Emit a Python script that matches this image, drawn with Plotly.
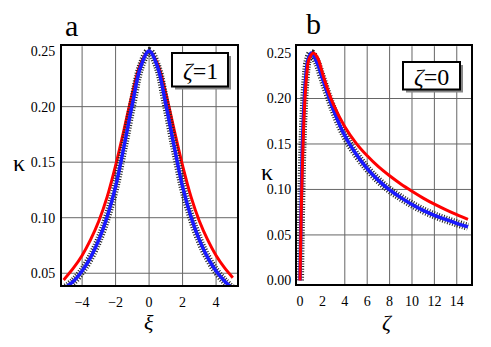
import plotly.graph_objects as go

# panel a (zeta = 1): kappa vs xi
xi_a = [-5.1, -4.5, -4.0, -3.5, -3.0, -2.5, -2.0, -1.5, -1.0, -0.5, 0.0,
        0.5, 1.0, 1.5, 2.0, 2.5, 3.0, 3.5, 4.0, 4.5, 5.0]
red_a = [0.044, 0.055, 0.066, 0.080, 0.097, 0.119, 0.147, 0.179, 0.212, 0.239, 0.250,
         0.239, 0.212, 0.179, 0.147, 0.119, 0.097, 0.080, 0.066, 0.055, 0.046]
blue_a = [0.036, 0.043, 0.052, 0.064, 0.080, 0.101, 0.128, 0.164, 0.202, 0.236, 0.250,
          0.236, 0.202, 0.164, 0.128, 0.101, 0.080, 0.064, 0.052, 0.043, 0.036]

# panel b (xi = 0): kappa vs zeta
zeta_b = [0.0, 0.1, 0.2, 0.3, 0.5, 0.7, 1.0, 1.5, 2.0, 3.0, 4.0, 5.0, 6.0, 7.0,
          8.0, 9.0, 10.0, 11.0, 12.0, 13.0, 14.0, 15.0]
blue_b = [0.0, 0.080, 0.140, 0.178, 0.222, 0.242, 0.250, 0.240, 0.222, 0.187, 0.159, 0.139,
          0.123, 0.110, 0.0995, 0.091, 0.0835, 0.077, 0.0715, 0.067, 0.0628, 0.059]
zeta_r = [0.0, 0.1, 0.2, 0.4, 0.6, 0.8, 1.2, 1.6, 2.0, 2.5, 3.0, 4.0, 5.0, 6.0,
          7.0, 8.0, 9.0, 10.0, 11.0, 12.0, 13.0, 14.0, 15.0]
red_b = [0.0, 0.070, 0.120, 0.190, 0.226, 0.243, 0.250, 0.244, 0.228, 0.209, 0.193, 0.169,
         0.151, 0.137, 0.125, 0.115, 0.106, 0.098, 0.0905, 0.0838, 0.0778, 0.0722, 0.067]

RED = "#ff0000"
BLUE = "#1a1aff"
FONT = "Liberation Serif, Times New Roman, serif"

fig = go.Figure()


def blue_curve(x, y, xa, ya):
    # black tick marks under the blue line
    fig.add_trace(go.Scatter(x=x, y=y, mode="lines", xaxis=xa, yaxis=ya,
                             line=dict(color="#222", width=8, dash="1px,1.6px", shape="spline"),
                             showlegend=False, hoverinfo="skip"))
    fig.add_trace(go.Scatter(x=x, y=y, mode="lines", xaxis=xa, yaxis=ya,
                             line=dict(color=BLUE, width=3.5, shape="spline"),
                             showlegend=False))


def red_curve(x, y, xa, ya):
    fig.add_trace(go.Scatter(x=x, y=y, mode="lines", xaxis=xa, yaxis=ya,
                             line=dict(color=RED, width=3, shape="spline"),
                             showlegend=False))


red_curve(xi_a, red_a, "x", "y")
blue_curve(xi_a, blue_a, "x", "y")
blue_curve(zeta_b, blue_b, "x2", "y2")
red_curve(zeta_r, red_b, "x2", "y2")

W, H = 491, 347
ax_common = dict(showgrid=False, zeroline=False, showline=True, mirror=True,
                 linecolor="black", linewidth=2, ticks="",
                 tickfont=dict(family=FONT, size=14, color="black"))

fig.update_layout(
    width=W, height=H, margin=dict(l=0, r=0, t=0, b=0),
    font=dict(family=FONT, color="black"),
    paper_bgcolor="white", plot_bgcolor="white",
    xaxis=dict(domain=[62 / W, 237 / W], range=[-5.2, 5.25],
               tickvals=[-4, -2, 0, 2, 4], ticklabelstandoff=3, **ax_common),
    yaxis=dict(domain=[59 / H, 302 / H], range=[0.0394, 0.2544],
               tickvals=[0.05, 0.10, 0.15, 0.20, 0.25], tickformat=".2f",
               ticklabelstandoff=2, **ax_common),
    xaxis2=dict(domain=[297 / W, 471 / W], range=[-0.27, 15.27], anchor="y2",
                tickvals=list(range(0, 15, 2)), ticklabelstandoff=3, **ax_common),
    yaxis2=dict(domain=[60 / H, 302 / H], range=[-0.004, 0.2575], anchor="x2",
                tickvals=[0.0, 0.05, 0.10, 0.15, 0.20, 0.25], tickformat=".2f",
                ticklabelstandoff=1, **ax_common),
)

# grid lines
grid = dict(color="#666", width=1)
for v in [-4, -2, 0, 2, 4]:
    fig.add_shape(type="line", xref="x", yref="y domain", x0=v, x1=v, y0=0, y1=1,
                  line=grid, layer="below")
for v in [0.05, 0.10, 0.15, 0.20]:
    fig.add_shape(type="line", xref="x domain", yref="y", x0=0, x1=1, y0=v, y1=v,
                  line=grid, layer="below")
for v in [4, 6, 8, 10, 12, 14]:
    fig.add_shape(type="line", xref="x2", yref="y2 domain", x0=v, x1=v, y0=0, y1=1,
                  line=grid, layer="below")
for v in [0.05, 0.10, 0.15, 0.20]:
    fig.add_shape(type="line", xref="x2 domain", yref="y2", x0=0, x1=1, y0=v, y1=v,
                  line=grid, layer="below")


def px(x, y):
    return x / W, 1 - y / H


def text(x, y, s, size):
    cx, cy = px(x, y)
    fig.add_annotation(x=cx, y=cy, xref="paper", yref="paper", text=s, showarrow=False,
                       xanchor="center", yanchor="middle",
                       font=dict(family=FONT, size=size, color="black"))


# label boxes with drop shadow
def label_box(x0, y0, x1, y1, s):
    a0, b0 = px(x0 + 3, y0 + 3)
    a1, b1 = px(x1 + 3, y1 + 3)
    fig.add_shape(type="rect", xref="paper", yref="paper", x0=a0, x1=a1, y0=b0, y1=b1,
                  fillcolor="#888", line=dict(width=0))
    a0, b0 = px(x0, y0)
    a1, b1 = px(x1, y1)
    fig.add_shape(type="rect", xref="paper", yref="paper", x0=a0, x1=a1, y0=b0, y1=b1,
                  fillcolor="white", line=dict(color="black", width=2))
    text((x0 + x1) / 2, (y0 + y1) / 2 + 1, s, 24)


label_box(172, 52, 228, 86, "<i>ζ</i>=1")
label_box(403, 61, 460, 89, "<i>ζ</i>=0")

text(71, 24, "a", 30)
text(313, 22, "b", 30)
text(149, 326, "<i>ξ</i>", 22)
text(387, 326, "<i>ζ</i>", 22)
text(19, 164, "κ", 24)
text(267, 173, "κ", 24)

fig.write_html("out.html", config={"displayModeBar": False},
               post_script="document.body.style.margin='0';")
